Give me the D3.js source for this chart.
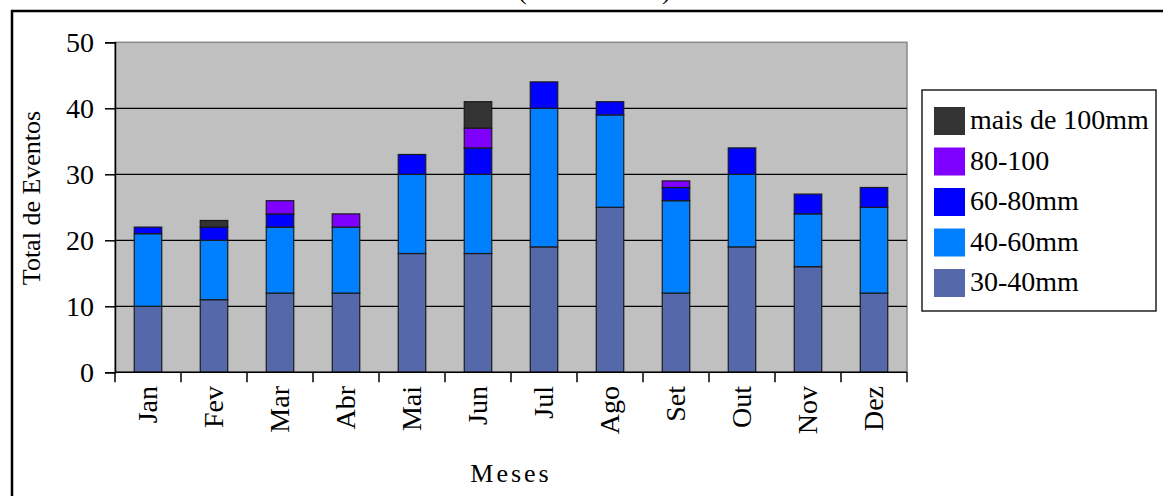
<!DOCTYPE html>
<html>
<head>
<meta charset="utf-8">
<script src="https://cdn.jsdelivr.net/npm/d3@7"></script>
<style>
html,body{margin:0;padding:0;background:#fff;}
svg{display:block;}
text{font-family:"Liberation Serif","Times New Roman",serif;fill:#000;}
</style>
</head>
<body>
<svg id="chart" width="1163" height="496"></svg>
<script>
const months = ["Jan","Fev","Mar","Abr","Mai","Jun","Jul","Ago","Set","Out","Nov","Dez"];
const s30_40  = [10,11,12,12,18,18,19,25,12,19,16,12];
const s40_60  = [11, 9,10,10,12,12,21,14,14,11, 8,13];
const s60_80  = [ 1, 2, 2, 0, 3, 4, 4, 2, 2, 4, 3, 3];
const s80_100 = [ 0, 0, 2, 2, 0, 3, 0, 0, 1, 0, 0, 0];
const s100    = [ 0, 1, 0, 0, 0, 4, 0, 0, 0, 0, 0, 0];
const seriesNames = ["30-40mm","40-60mm","60-80mm","80-100","mais de 100mm"];
const seriesColors = ["#5468aa","#0080ff","#0000ff","#8000ff","#333333"];
const yTicks = [0,10,20,30,40,50];

const svg = d3.select("#chart");
const W = 1163, H = 496;

// outer frame
svg.append("line").attr("x1",11).attr("x2",W).attr("y1",11).attr("y2",11)
  .attr("stroke","#000").attr("stroke-width",2.5);
svg.append("line").attr("x1",12).attr("x2",12).attr("y1",10).attr("y2",H)
  .attr("stroke","#000").attr("stroke-width",2.5);

// partially cut title
svg.append("text").attr("x",518).attr("y",-1).attr("font-size",26).text("(");
svg.append("text").attr("x",662).attr("y",-1).attr("font-size",26).text(")");

const L = 115, R = 907, T = 42.3, B = 372.3;
const x = d3.scaleBand().domain(months).range([L,R]).paddingInner(0).paddingOuter(0);
const y = d3.scaleLinear().domain([0,50]).range([B,T]);

// plot background
svg.append("rect").attr("x",L).attr("y",T).attr("width",R-L).attr("height",B-T)
  .attr("fill","#c0c0c0").attr("stroke","#8a8a8a").attr("stroke-width",1.5);

// gridlines
svg.append("g").selectAll("line").data(yTicks.filter(d=>d>0 && d<50)).join("line")
  .attr("x1",L).attr("x2",R).attr("y1",d=>y(d)).attr("y2",d=>y(d))
  .attr("stroke","#000").attr("stroke-width",1.3);

// stacked bars
const table = months.map((m,i)=>({month:m,
  "30-40mm":s30_40[i],"40-60mm":s40_60[i],"60-80mm":s60_80[i],"80-100":s80_100[i],"mais de 100mm":s100[i]}));
const stack = d3.stack().keys(seriesNames)(table);
const bw = 27.5;
svg.append("g").selectAll("g").data(stack).join("g")
  .attr("fill",(d,i)=>seriesColors[i])
  .selectAll("rect").data(d=>d.filter(p=>p[1]-p[0]>0)).join("rect")
  .attr("x",d=>x(d.data.month)+x.bandwidth()/2-bw/2)
  .attr("width",bw)
  .attr("y",d=>y(d[1]))
  .attr("height",d=>y(d[0])-y(d[1]))
  .attr("stroke","#1a1a1a").attr("stroke-width",1.2);

// y axis
const yAxis = svg.append("g").attr("transform",`translate(${L},0)`)
  .call(d3.axisLeft(y).tickValues(yTicks).tickSize(10).tickPadding(11).tickFormat(d3.format("d")));
yAxis.select(".domain").attr("stroke","#000").attr("stroke-width",1.5);
yAxis.selectAll(".tick line").attr("stroke","#000").attr("stroke-width",1.5);
yAxis.selectAll("text").attr("font-family","Liberation Serif, serif").attr("font-size",28).attr("fill","#000");

// x axis: boundary ticks
const xb = d3.scaleLinear().domain([0,months.length]).range([L,R]);
const bounds = d3.range(0,months.length+1);
svg.append("line").attr("x1",L).attr("x2",R).attr("y1",B).attr("y2",B)
  .attr("stroke","#000").attr("stroke-width",1.5);
svg.append("g").selectAll("line").data(bounds).join("line")
  .attr("x1",d=>xb(d)).attr("x2",d=>xb(d)).attr("y1",B).attr("y2",B+10)
  .attr("stroke","#000").attr("stroke-width",1.5);
// month labels
svg.append("g").selectAll("text").data(months).join("text")
  .attr("transform",d=>`translate(${x(d)+x.bandwidth()/2+9},386) rotate(-90)`)
  .attr("text-anchor","end").attr("font-size",28).text(d=>d);

// axis titles
svg.append("text").attr("transform","translate(40,198) rotate(-90)")
  .attr("text-anchor","middle").attr("font-size",26).text("Total de Eventos");
svg.append("text").attr("x",511).attr("y",482).attr("text-anchor","middle")
  .attr("font-size",26).attr("letter-spacing",3).text("Meses");

// legend
const lg = svg.append("g");
lg.append("rect").attr("x",922).attr("y",90).attr("width",234).attr("height",221)
  .attr("fill","#fff").attr("stroke","#222").attr("stroke-width",1.5);
const legOrder = d3.range(seriesNames.length).reverse();
const items = lg.selectAll("g.item").data(legOrder).join("g").attr("class","item")
  .attr("transform",(d,i)=>`translate(934,${107+i*40.5})`);
items.append("rect").attr("width",31).attr("height",28).attr("fill",d=>seriesColors[d]);
items.append("text").attr("x",36).attr("y",22).attr("font-size",28).text(d=>seriesNames[d]);
</script>
</body>
</html>
